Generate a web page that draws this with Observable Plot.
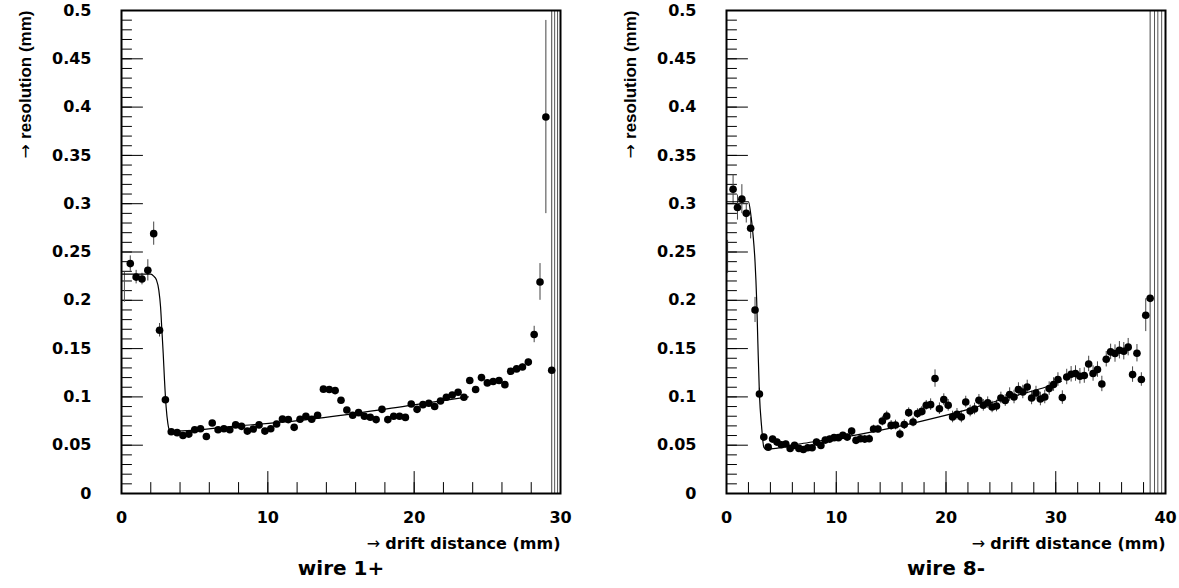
<!DOCTYPE html>
<html><head><meta charset="utf-8">
<script src="https://cdn.jsdelivr.net/npm/d3@7"></script>
<script src="https://cdn.jsdelivr.net/npm/@observablehq/plot@0.6"></script>
<style>
body{margin:0;background:#fff;}
#wrap{position:relative;width:1179px;height:588px;overflow:hidden;background:#fff;}
#p1{position:absolute;left:0;top:0;}
#p2{position:absolute;left:605px;top:0;}
</style></head><body><div id="wrap"><div id="p1"></div><div id="p2"></div></div>
<script>
// ---------- axis ticks / labels ----------
const yMajor = [0, 0.05, 0.1, 0.15, 0.2, 0.25, 0.3, 0.35, 0.4, 0.45, 0.5];
const yLabels = ["0", "0.05", "0.1", "0.15", "0.2", "0.25", "0.3", "0.35", "0.4", "0.45", "0.5"];
const leftXMajor = [0, 10, 20, 30];
const leftXLabels = ["0", "10", "20", "30"];
const rightXMajor = [0, 10, 20, 30, 40];
const rightXLabels = ["0", "10", "20", "30", "40"];
const xTitle = "drift distance (mm)";
const yTitle = "resolution (mm)";
const arrow = "\u2192";

// ---------- wire 1+ ----------
const leftX = [0.6,1.0,1.4,1.8,2.2,2.6,3.0,3.4,3.8,4.2,4.6,5.0,5.4,5.8,6.2,6.6,7.0,7.4,7.8,8.2,8.6,9.0,9.4,9.8,10.2,10.6,11.0,11.4,11.8,12.2,12.6,13.0,13.4,13.8,14.2,14.6,15.0,15.4,15.8,16.2,16.6,17.0,17.4,17.8,18.2,18.6,19.0,19.4,19.8,20.2,20.6,21.0,21.4,21.8,22.2,22.6,23.0,23.4,23.8,24.2,24.6,25.0,25.4,25.8,26.2,26.6,27.0,27.4,27.8,28.2,28.6,29.0,29.4];
const leftY = [0.238,0.224,0.222,0.231,0.269,0.169,0.097,0.064,0.063,0.060,0.0615,0.066,0.067,0.059,0.073,0.066,0.067,0.066,0.071,0.0695,0.0646,0.0667,0.071,0.0646,0.067,0.072,0.077,0.0765,0.0685,0.0768,0.080,0.0768,0.081,0.108,0.1076,0.1065,0.0965,0.0865,0.081,0.0837,0.080,0.079,0.0765,0.0871,0.0765,0.080,0.080,0.0788,0.0927,0.0871,0.092,0.0934,0.090,0.0957,0.0996,0.102,0.1048,0.0996,0.117,0.1076,0.120,0.1145,0.116,0.117,0.1127,0.1265,0.129,0.131,0.136,0.1646,0.219,0.3897,0.1276];
const leftErr = [0.008,0.007,0.006,0.011,0.012,0.007,0.004,0.002,0.002,0.002,0.002,0.002,0.002,0.002,0.002,0.002,0.002,0.002,0.002,0.002,0.002,0.002,0.002,0.002,0.002,0.002,0.002,0.002,0.002,0.002,0.002,0.002,0.002,0.002,0.002,0.002,0.002,0.002,0.002,0.002,0.002,0.002,0.002,0.002,0.002,0.002,0.002,0.002,0.002,0.002,0.002,0.002,0.002,0.002,0.002,0.002,0.002,0.002,0.002,0.002,0.003,0.003,0.003,0.003,0.003,0.003,0.003,0.003,0.003,0.0085,0.019,0.1,0.6];
const leftFitX = [0,2.0,2.2,2.39,2.55,2.67,2.76,2.85,2.94,3.05,3.17,3.3,3.6,8,12.2,16,19.75,23.7];
const leftFitY = [0.227,0.227,0.225,0.221,0.2106,0.193,0.169,0.145,0.117,0.0895,0.0723,0.065,0.0645,0.070,0.0757,0.083,0.0913,0.100];
// error bars whose markers are not visible (edge / off scale)
const leftEdgeX = [0.2, 29.6, 29.8];
const leftEdgeLo = [0.198, 0, 0];
const leftEdgeHi = [0.229, 0.5, 0.5];

// ---------- wire 8- ----------
const rightX = [0.6,1.0,1.4,1.8,2.2,2.6,3.0,3.4,3.8,4.2,4.6,5.0,5.4,5.8,6.2,6.6,7.0,7.4,7.8,8.2,8.6,9.0,9.4,9.8,10.2,10.6,11.0,11.4,11.8,12.2,12.6,13.0,13.4,13.8,14.2,14.6,15.0,15.4,15.8,16.2,16.6,17.0,17.4,17.8,18.2,18.6,19.0,19.4,19.8,20.2,20.6,21.0,21.4,21.8,22.2,22.6,23.0,23.4,23.8,24.2,24.6,25.0,25.4,25.8,26.2,26.6,27.0,27.4,27.8,28.2,28.6,29.0,29.4,29.8,30.2,30.6,31.0,31.4,31.8,32.2,32.6,33.0,33.4,33.8,34.2,34.6,35.0,35.4,35.8,36.2,36.6,37.0,37.4,37.8,38.2,38.6];
const rightY = [0.315,0.296,0.3047,0.29,0.2746,0.190,0.103,0.0584,0.048,0.0563,0.0532,0.0505,0.0512,0.0467,0.0498,0.0467,0.0456,0.0474,0.0474,0.0532,0.0498,0.0553,0.0563,0.0578,0.0578,0.0602,0.0584,0.0646,0.055,0.0567,0.0563,0.0567,0.0667,0.0667,0.075,0.0802,0.0705,0.0709,0.0615,0.0713,0.0837,0.074,0.0827,0.085,0.0913,0.092,0.119,0.0878,0.0972,0.0913,0.0792,0.082,0.0792,0.0947,0.0854,0.0875,0.0965,0.0913,0.094,0.0896,0.0906,0.0989,0.0962,0.1024,0.0999,0.1076,0.1051,0.1103,0.0989,0.104,0.0978,0.0999,0.1086,0.1128,0.118,0.0993,0.1206,0.1234,0.1242,0.1214,0.1221,0.1341,0.1242,0.1283,0.1134,0.139,0.1466,0.1449,0.1483,0.1473,0.1515,0.1231,0.1452,0.118,0.1846,0.202];
const rightErr = [0.015,0.013,0.015,0.010,0.011,0.013,0.006,0.003,0.003,0.003,0.003,0.003,0.003,0.003,0.003,0.003,0.003,0.003,0.003,0.003,0.003,0.003,0.003,0.003,0.003,0.003,0.003,0.003,0.003,0.003,0.004,0.004,0.004,0.004,0.005,0.005,0.005,0.005,0.005,0.005,0.005,0.005,0.005,0.005,0.005,0.006,0.009,0.006,0.006,0.006,0.006,0.006,0.006,0.006,0.006,0.006,0.006,0.006,0.006,0.006,0.006,0.006,0.006,0.007,0.007,0.007,0.007,0.007,0.007,0.007,0.007,0.007,0.007,0.007,0.007,0.007,0.008,0.008,0.008,0.008,0.008,0.008,0.008,0.008,0.008,0.008,0.008,0.009,0.009,0.009,0.009,0.008,0.009,0.007,0.017,0.6];
const rightFitX = [0,2.0,2.2,2.4,2.6,2.75,2.86,3.0,3.2,3.4,3.6,6.8,12,17.7,21.7,25.5,29.3,30.5];
const rightFitY = [0.302,0.302,0.29,0.27,0.24,0.2,0.155,0.103,0.069,0.048,0.046,0.0515,0.061,0.0747,0.086,0.0986,0.111,0.116];
const rightEdgeX = [0.1, 39.0, 39.3, 39.65];
const rightEdgeLo = [0.228, 0, 0, 0];
const rightEdgeHi = [0.262, 0.5, 0.5, 0.5];

// ---------- drawing ----------
const tickShape = {draw(ctx, l) { ctx.moveTo(0, 0); ctx.lineTo(0, -l); }};
const yMinor = d3.range(0, 0.5001, 0.01);

function panel(o) {
  const pts = o.x.map((x, i) => ({x, y: o.y[i], e: o.e[i]}));
  const fit = o.fx.map((x, i) => ({x, y: o.fy[i]}));
  const edges = o.ex.map((x, i) => ({x, lo: o.elo[i], hi: o.ehi[i]}));
  const xMinor = d3.range(0, o.xMax + 0.001, 2);
  const bold = {fontFamily: "DejaVu Sans", fontWeight: "bold", fill: "black"};
  const svg = Plot.plot({
    width: o.width, height: 588,
    marginLeft: 121, marginRight: o.width - 560, marginTop: 10, marginBottom: 95,
    x: {domain: [0, o.xMax], axis: null},
    y: {domain: [0, 0.5], axis: null},
    style: {background: "white", overflow: "visible"},
    marks: [
      Plot.vector(yMinor, {y: d => d, frameAnchor: "left", rotate: 90, length: 10, anchor: "start", shape: tickShape, stroke: "black", strokeWidth: 1}),
      Plot.vector(yMajor, {y: d => d, frameAnchor: "left", rotate: 90, length: 21, anchor: "start", shape: tickShape, stroke: "black", strokeWidth: 1}),
      Plot.vector(xMinor, {x: d => d, frameAnchor: "bottom", rotate: 0, length: 11, anchor: "start", shape: tickShape, stroke: "black", strokeWidth: 1}),
      Plot.vector(o.xMajor, {x: d => d, frameAnchor: "bottom", rotate: 0, length: 22, anchor: "start", shape: tickShape, stroke: "black", strokeWidth: 1}),
      Plot.ruleX(edges, {x: "x", y1: "lo", y2: "hi", stroke: "#555", strokeWidth: 1, clip: true}),
      Plot.ruleX(pts, {x: "x", y1: d => d.y - d.e, y2: d => d.y + d.e, stroke: "#444", strokeWidth: 1, clip: true}),
      Plot.line(fit, {x: "x", y: "y", curve: "monotone-x", stroke: "black", strokeWidth: 1.2, clip: true}),
      Plot.dot(pts, {x: "x", y: "y", r: 3.8, fill: "black", stroke: null, clip: true}),
      Plot.frame({stroke: "black", strokeWidth: 2}),
      Plot.text(yMajor, {y: d => d, text: (d, i) => yLabels[i], frameAnchor: "left", dx: -30, textAnchor: "end", fontSize: 16, ...bold}),
      Plot.text(o.xMajor, {x: d => d, text: (d, i) => o.xLabels[i], frameAnchor: "bottom", dy: 29, fontSize: 16, ...bold}),
      Plot.text([xTitle], {text: d => d, frameAnchor: "bottom-right", textAnchor: "end", dy: 55, fontSize: 16, className: "xtitle", ...bold}),
      Plot.text([o.title], {text: d => d, frameAnchor: "bottom", dy: 81, fontSize: 20, ...bold}),
      Plot.text([yTitle], {text: d => d, frameAnchor: "top-left", rotate: -90, textAnchor: "end", dx: -103, fontSize: 17, className: "ytitle", fontFamily: "Liberation Sans", fontWeight: "bold", fill: "black"})
    ]
  });
  // prepend a thin (non-bold) arrow to the axis titles, as in the original
  for (const cls of ["xtitle", "ytitle"]) {
    const t = svg.querySelector(`g.${cls} text`) || svg.querySelector(`.${cls} text`);
    if (t) {
      const label = t.textContent;
      t.textContent = "";
      const a = document.createElementNS("http://www.w3.org/2000/svg", "tspan");
      a.setAttribute("font-weight", "normal");
      a.setAttribute("font-family", "DejaVu Sans");
      a.textContent = arrow + " ";
      const b = document.createElementNS("http://www.w3.org/2000/svg", "tspan");
      b.textContent = label;
      t.append(a, b);
    }
  }
  return svg;
}

document.getElementById("p1").append(panel({
  width: 600, xMax: 30, x: leftX, y: leftY, e: leftErr, fx: leftFitX, fy: leftFitY,
  ex: leftEdgeX, elo: leftEdgeLo, ehi: leftEdgeHi, xMajor: leftXMajor, xLabels: leftXLabels, title: "wire 1+"
}));
document.getElementById("p2").append(panel({
  width: 574, xMax: 40, x: rightX, y: rightY, e: rightErr, fx: rightFitX, fy: rightFitY,
  ex: rightEdgeX, elo: rightEdgeLo, ehi: rightEdgeHi, xMajor: rightXMajor, xLabels: rightXLabels, title: "wire 8-"
}));
</script>
</body></html>
